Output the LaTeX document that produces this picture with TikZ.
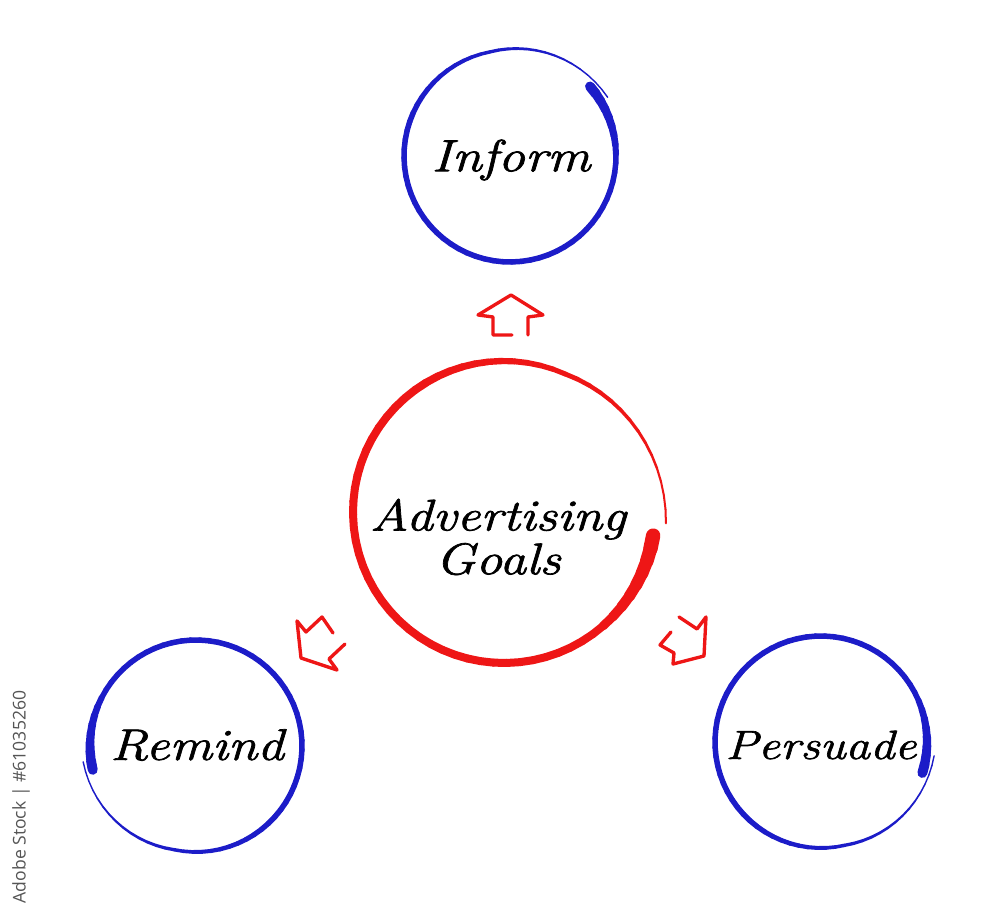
\documentclass[tikz,border=0pt]{standalone}
\usepackage{fontspec}
\newfontfamily\scr[FakeStretch=1.2,FakeBold=1.6]{Latin Modern Roman}
\newfontfamily\wmfont{Open Sans}
\definecolor{ringblue}{RGB}{28,28,200}
\definecolor{ringred}{RGB}{238,22,22}
\definecolor{wmgray}{RGB}{85,85,85}
% cx, cy, r, start angle, direction, base width (px), colour, sweep
\newcommand{\brushring}[8]{%
  \pgfmathtruncatemacro{\nseg}{#8/5-1}%
  \foreach \i in {0,...,\nseg}{%
    \pgfmathsetmacro{\pa}{\i*5}%
    \pgfmathsetmacro{\pb}{\i*5+5}%
    \pgfmathsetmacro{\ta}{#4+#5*\pa}%
    \pgfmathsetmacro{\tb}{#4+#5*\pb}%
    \pgfmathsetmacro{\ra}{#3*(1+0.075*max(0,\pa-(#8-70))/70)}%
    \pgfmathsetmacro{\rb}{#3*(1+0.075*max(0,\pb-(#8-70))/70)}%
    \pgfmathsetmacro{\wa}{#6*((\pa<40) ? (1.8-0.8*\pa/40) : max(0.25,min(1,1-(\pa-(#8-130))/150)))}%
    \draw[#7, line width=\wa*0.2845pt, line cap=round]
      ({#1+\ra*cos(\ta)},{#2-\ra*sin(\ta)}) -- ({#1+\rb*cos(\tb)},{#2-\rb*sin(\tb)});
  }}
\tikzset{
  label/.style={font=\scr\itshape, text=black, inner sep=0pt, align=center},
  hollowarrow/.style={draw=ringred, line width=0.95pt, line join=round, line cap=round}
}
\begin{document}
\begin{tikzpicture}[x=0.01cm, y=-0.01cm]
\useasboundingbox (0,0) rectangle (1000,916);
\fill[white] (0,0) rectangle (1000,916);

% rings
\brushring{510}{156}{106}{41}{-1}{5.5}{ringblue}{370}
\brushring{504}{512}{151}{-9}{-1}{8}{ringred}{355}
\brushring{196}{746}{106}{193}{-1}{5.5}{ringblue}{365}
\brushring{821}{742}{106}{-17}{1}{5.5}{ringblue}{370}

% labels
\node[label, font=\scr\itshape\fontsize{12.8}{12}\selectfont] (inform) at (511,160) {Inform};
\node[label, font=\scr\itshape\fontsize{12.6}{11.4}\selectfont] (goals) at (498,537) {Advertising\\Goals};
\node[label, font=\scr\itshape\fontsize{12.6}{12}\selectfont] (remind) at (197,745) {Remind};
\node[label, font=\scr\itshape\fontsize{11.6}{12}\selectfont] (persuade) at (821,745) {Persuade};

% hollow arrows
\draw[hollowarrow] (512,335) -- (493,335) -- (493,317) -- (478,315) -- (511,295)
  -- (543,315) -- (528,317) -- (528,335);
\draw[hollowarrow] (333,633) -- (322,617) -- (306,632) -- (297,621) -- (301,658)
  -- (337,670) -- (329,659) -- (345,644);
\draw[hollowarrow] (679,617) -- (697,629) -- (706,617) -- (704,656) -- (673,664)
  -- (674,653) -- (660,645) -- (671,632);

% stock line
\node[font=\wmfont\fontsize{5}{6}\selectfont, text=wmgray, rotate=90, inner sep=0pt] (stock) at (21,797) {Adobe Stock | \#61035260};
\end{tikzpicture}
\end{document}
